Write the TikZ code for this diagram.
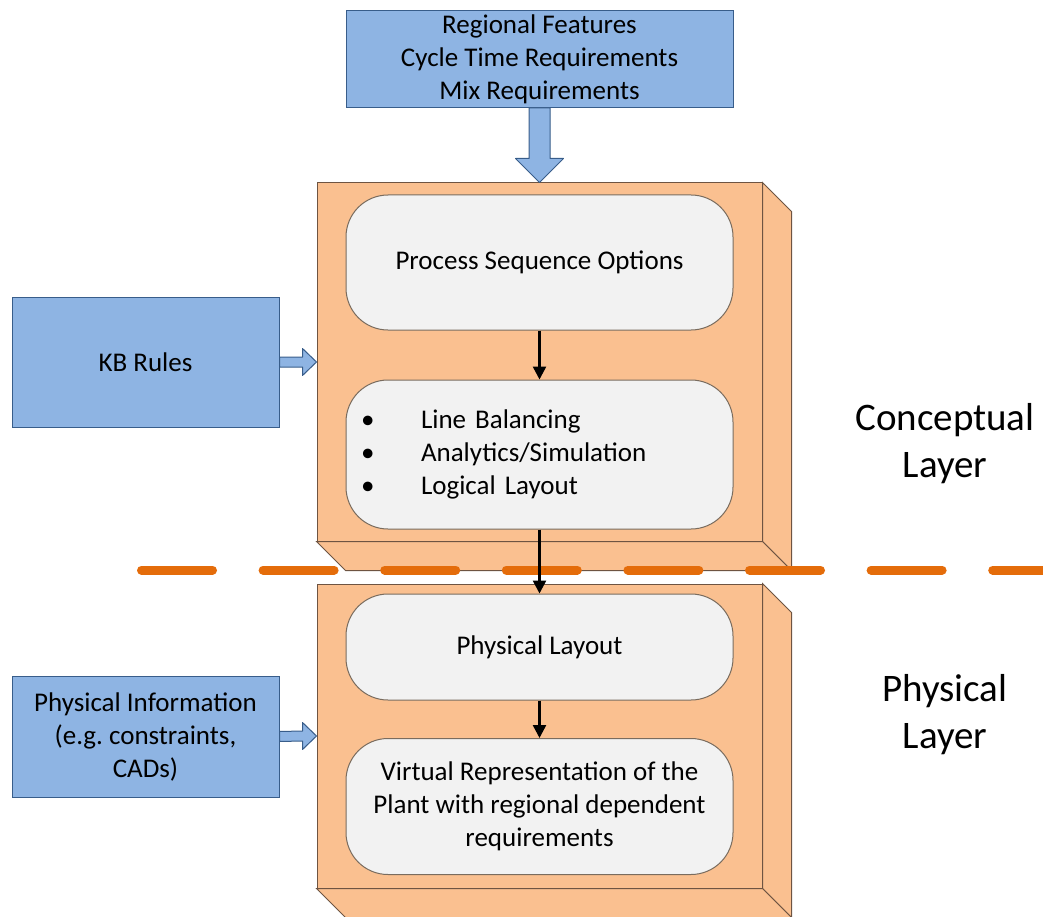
\documentclass[tikz,border=0pt]{standalone}
\usepackage{fontspec}
\setmainfont{Carlito}
\usetikzlibrary{arrows.meta,calc}

\definecolor{inblue}{HTML}{8EB4E3}
\definecolor{inblueline}{HTML}{385D8A}
\definecolor{layerfill}{HTML}{FAC090}
\definecolor{layerline}{HTML}{6E5442}
\definecolor{stepfill}{HTML}{F2F2F2}
\definecolor{stepline}{HTML}{7A6C5E}
\definecolor{sepcolor}{HTML}{E46C0A}

\begin{document}
\begin{tikzpicture}[x=1pt,y=-1pt,
  every node/.style={font=\fontsize{27}{33}\selectfont},
  inputbox/.style={draw=inblueline, fill=inblue, line width=1pt, align=center, inner sep=0pt},
  layerbox/.style={draw=layerline, fill=layerfill, line width=1pt, minimum width=445pt, inner sep=0pt},
  stepbox/.style={draw=stepline, fill=stepfill, line width=1pt, rounded corners=42pt, minimum width=387pt, inner sep=0pt, align=center},
  flow/.style={line width=2.5pt, -{Triangle[length=13pt,width=13pt]}},
  fat/.style={draw=inblueline, fill=inblue, line width=1pt, line join=round},
  layertext/.style={font=\fontsize{39}{47}\selectfont, align=center}]
\useasboundingbox (0,0) rectangle (1043,917);

% inputs
\node[inputbox, minimum width=387pt, minimum height=97pt] (feat) at (539.5,59) {Regional Features\\Cycle Time Requirements\\Mix Requirements};
\node[inputbox, minimum width=267pt, minimum height=130pt] (kb) at (145.5,362) {KB Rules};
\node[inputbox, minimum width=267pt, minimum height=121pt] (info) at (145.5,736.5) {Physical Information\\(e.g.\ constraints,\\CADs)};

% layers as blocks
\node[layerbox, minimum height=358pt] (upcube) at (539.5,362) {};
\node[layerbox, minimum height=304pt] (lowcube) at (539.5,736) {};
\foreach \c in {upcube,lowcube} {
    \draw[draw=layerline, fill=layerfill, line width=1pt] (\c.north east) -- ++(29,29) -- ($(\c.south east)+(29,29)$) -- (\c.south east) -- cycle;
    \draw[draw=layerline, fill=layerfill, line width=1pt] (\c.south west) -- ++(29,29) -- ($(\c.south east)+(29,29)$) -- (\c.south east) -- cycle;
}

% border between the layers
\draw[sepcolor, line width=9pt, line cap=round, dash pattern=on 71pt off 50.6pt] (141.5,570) -- (1060,570);

% steps
\node[stepbox, minimum height=135pt] (seq) at (539.5,262.5) {Process Sequence Options};
\node[stepbox, minimum height=149pt, text width=357pt, inner xsep=15pt, align=left] (bal) at (539.5,454.5) {\makebox[60pt][l]{\textbullet}Line Balancing\\\makebox[60pt][l]{\textbullet}Analytics/Simulation\\\makebox[60pt][l]{\textbullet}Logical Layout};
\node[stepbox, minimum height=106pt] (phys) at (539.5,647) {Physical Layout};
\node[stepbox, minimum height=136pt] (virt) at (539.5,806.5) {Virtual Representation of the\\Plant with regional dependent\\requirements};

\node[layertext] (concl) at (945,443.5) {Conceptual\\Layer};
\node[layertext] (physl) at (945,715) {Physical\\Layer};

% block arrows
\draw[fat] ($(feat.south)+(-10.5,0)$) -- ($(upcube.north)+(-10.5,-24)$) -- ($(upcube.north)+(-24,-24)$) -- (upcube.north)
    -- ($(upcube.north)+(24,-24)$) -- ($(upcube.north)+(10.5,-24)$) -- ($(feat.south)+(10.5,0)$) -- cycle;
\foreach \a/\b in {kb/upcube, info/lowcube} {
    \draw[fat] ($(\a.east)+(0,-5)$) -- ($(\b.west)+(-14,-5)$) -- ($(\b.west)+(-14,-13.5)$) -- (\b.west)
        -- ($(\b.west)+(-14,13.5)$) -- ($(\b.west)+(-14,5)$) -- ($(\a.east)+(0,5)$) -- cycle;
}

% flow
\draw[flow] (seq.south) -- (bal.north);
\draw[flow] (bal.south) -- (phys.north);
\draw[flow] (phys.south) -- (virt.north);
\end{tikzpicture}
\end{document}
